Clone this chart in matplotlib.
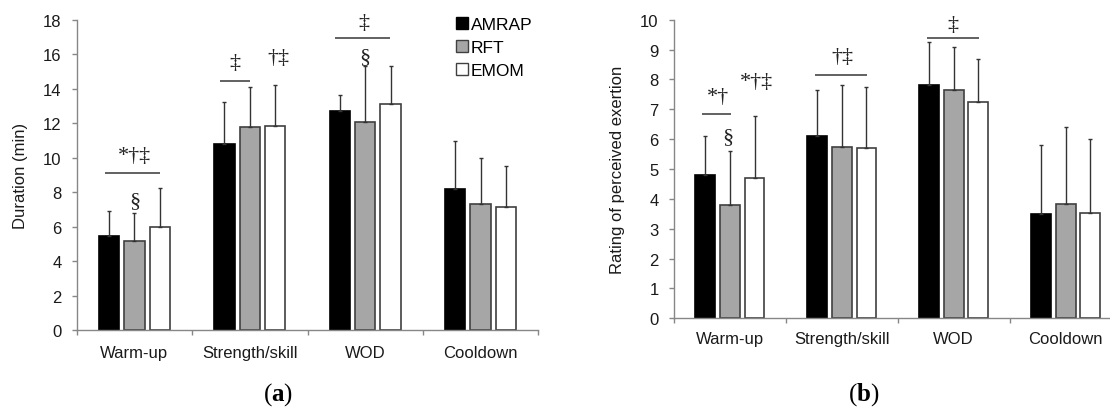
import matplotlib
matplotlib.use('Agg')
import matplotlib.pyplot as plt
from matplotlib.patches import Patch
import numpy as np

# ---------------- data ----------------
categories = ['Warm-up', 'Strength/skill', 'WOD', 'Cooldown']
series_names = ['AMRAP', 'RFT', 'EMOM']

# (a) Duration (min): means and upper SD
dur_amrap = [5.43, 10.77, 12.70, 8.16]
dur_rft = [5.18, 11.78, 12.05, 7.33]
dur_emom = [5.96, 11.83, 13.13, 7.13]
dur_amrap_sd = [1.45, 2.47, 0.95, 2.82]
dur_rft_sd = [1.62, 2.32, 3.25, 2.66]
dur_emom_sd = [2.29, 2.37, 2.21, 2.40]

# (b) Rating of perceived exertion: means and upper SD
rpe_amrap = [4.81, 6.10, 7.80, 3.50]
rpe_rft = [3.80, 5.73, 7.65, 3.83]
rpe_emom = [4.71, 5.70, 7.25, 3.54]
rpe_amrap_sd = [1.28, 1.53, 1.44, 2.31]
rpe_rft_sd = [1.79, 2.10, 1.45, 2.59]
rpe_emom_sd = [2.05, 2.03, 1.43, 2.45]

# significance annotations: (text, x, y) and bracket lines (x0, x1, y)
dur_marks = [('*†‡', 0.0, 10.1), ('§', 0.003, 7.5), ('‡', 0.869, 15.53),
             ('†‡', 1.244, 15.78), ('‡', 1.99, 17.81), ('§', 2.0, 15.88)]
dur_lines = [(-0.251, 0.225, 9.09), (0.74, 1.005, 14.44), (1.739, 2.215, 16.94)]
rpe_marks = [('*†', -0.111, 7.43), ('§', -0.015, 6.08), ('*†‡', 0.233, 7.93),
             ('†‡', 1.007, 8.77), ('‡', 1.99, 9.83)]
rpe_lines = [(-0.25, 0.011, 6.84), (0.76, 1.227, 8.15), (1.76, 2.23, 9.40)]

# ---------------- style ----------------
plt.rcParams['font.family'] = ['Liberation Sans', 'DejaVu Sans']
plt.rcParams['mathtext.fontset'] = 'custom'
plt.rcParams['mathtext.rm'] = 'Liberation Serif'
plt.rcParams['mathtext.bf'] = 'Liberation Serif:bold'

spine_col = '#878787'
text_col = '#1a1a1a'
fills = ['#000000', '#a6a6a6', '#ffffff']
edges = ['#000000', '#404040', '#404040']
offsets = [-0.22, 0.0, 0.22]
bar_w = 0.177

fig = plt.figure(figsize=(11.1, 4.1), dpi=100)
axA = fig.add_axes([0.0691, 0.1927, 0.4159, 0.7568])
axB = fig.add_axes([0.6072, 0.2212, 0.4032, 0.7283])


def draw(ax, means, sds, ymax, ystep, ylabel, labelx, xpad, marks, lines):
    x = np.arange(len(categories))
    for i in range(3):
        ax.bar(x + offsets[i], means[i], bar_w, color=fills[i],
               edgecolor=edges[i], linewidth=1.2, zorder=2)
        ax.errorbar(x + offsets[i], means[i],
                    yerr=[np.zeros(len(categories)), sds[i]], fmt='none',
                    ecolor='#333333', elinewidth=1.0, capsize=1.5,
                    capthick=1.0, zorder=3)
    ax.set_xlim(-0.5, len(categories) - 0.5)
    ax.set_ylim(0, ymax)
    ax.set_yticks(np.arange(0, ymax + 0.01, ystep))
    ax.set_xticks(np.arange(-0.5, len(categories), 1.0))
    ax.set_xticklabels([])
    ax.set_xticks(x, minor=True)
    ax.set_xticklabels(categories, minor=True)
    ax.tick_params(axis='x', which='major', length=3.5, width=1,
                   color=spine_col, direction='out')
    ax.tick_params(axis='x', which='minor', length=0, pad=xpad,
                   labelsize=12, labelcolor=text_col)
    ax.tick_params(axis='y', length=3.5, width=1, color=spine_col,
                   direction='out', pad=7.5, labelsize=12,
                   labelcolor=text_col)
    for s in ['top', 'right']:
        ax.spines[s].set_visible(False)
    for s in ['left', 'bottom']:
        ax.spines[s].set_color(spine_col)
        ax.spines[s].set_linewidth(1.0)
    ax.set_ylabel(ylabel, fontsize=12, color=text_col)
    ax.yaxis.set_label_coords(labelx, 0.5)
    for (x0, x1, y) in lines:
        ax.plot([x0, x1], [y, y], color='#555555', lw=1.3,
                solid_capstyle='butt', zorder=4)
    for (t, xx, yy) in marks:
        ax.text(xx, yy, t, ha='center', va='center', fontsize=16,
                family='Liberation Serif', color='#222222', zorder=5)


draw(axA, [dur_amrap, dur_rft, dur_emom],
     [dur_amrap_sd, dur_rft_sd, dur_emom_sd], 18, 2, 'Duration (min)',
     -0.105, 11, dur_marks, dur_lines)
draw(axB, [rpe_amrap, rpe_rft, rpe_emom],
     [rpe_amrap_sd, rpe_rft_sd, rpe_emom_sd], 10, 1,
     'Rating of perceived exertion', -0.1097, 9, rpe_marks, rpe_lines)

handles = [Patch(facecolor=fills[i], edgecolor=edges[i], linewidth=1.0)
           for i in range(3)]
axA.legend(handles, series_names, loc='upper left',
           bbox_to_anchor=(0.822, 1.01), frameon=False, fontsize=12.5,
           handlelength=0.7, handleheight=0.7, handletextpad=0.15,
           labelspacing=0.45, borderpad=0, borderaxespad=0)

fig.text(278.3 / 1110, 1 - 395 / 410, r'($\mathbf{a}$)', ha='center',
         va='center', fontsize=18, family='Liberation Serif', color='black')
fig.text(863.4 / 1110, 1 - 395 / 410, r'($\mathbf{b}$)', ha='center',
         va='center', fontsize=18, family='Liberation Serif', color='black')

fig.savefig('out.png', dpi=100, facecolor='white')
